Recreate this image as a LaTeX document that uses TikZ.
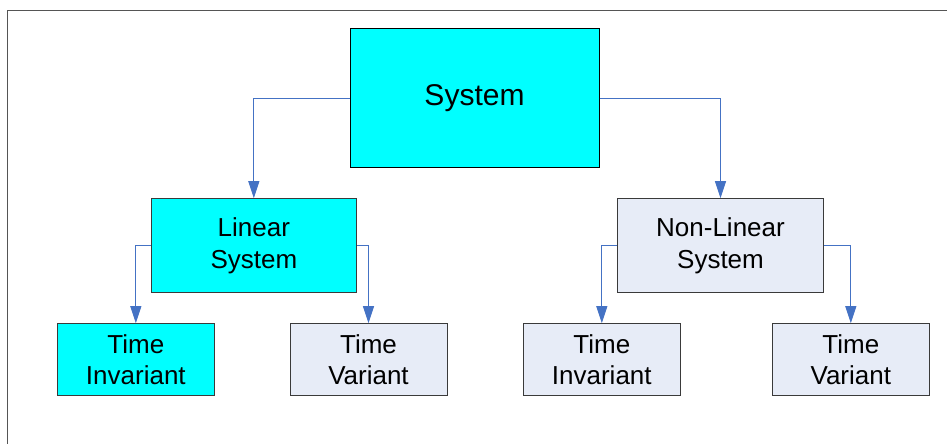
\documentclass[tikz,border=0pt]{standalone}
\usepackage{fontspec}
\setmainfont{Liberation Sans}
\usetikzlibrary{arrows.meta}
\definecolor{boxcyan}{HTML}{00FFFF}
\definecolor{boxpale}{HTML}{E7ECF7}
\definecolor{linkblue}{HTML}{4472C4}
\definecolor{edgegrey}{HTML}{3A3A3A}
\definecolor{framegrey}{HTML}{555555}
\tikzset{
  base/.style={draw=edgegrey, line width=1pt, inner sep=0pt, align=center,
    font=\fontsize{26}{31.5}\selectfont},
  cyanbox/.style={base, fill=boxcyan},
  palebox/.style={base, fill=boxpale},
  link/.style={draw=linkblue, line width=1pt, -{Triangle[length=17pt,width=11pt]}},
}
\begin{document}
\begin{tikzpicture}[x=1pt,y=-1pt]
  \useasboundingbox (0,0) rectangle (947,444);
  % open frame (left and top edges)
  \draw[framegrey, line width=1.6pt] (7.5,444) -- (7.5,10.5) -- (947,10.5);

  % top level
  \node[cyanbox, draw=black, minimum width=249pt, minimum height=138pt,
        font=\fontsize{30}{36}\selectfont] (sys) at (474.5,98) {System};

  % second level
  \node[cyanbox, minimum width=205.7pt, minimum height=94pt] (lin) at (253.85,245.7) {Linear\\System};
  \node[palebox, minimum width=205.6pt, minimum height=94pt] (nl) at (720.5,245.7) {Non-Linear\\System};

  % third level
  \node[cyanbox, minimum width=156.3pt, minimum height=72pt] (til) at (135.85,359.7) {Time\\Invariant};
  \node[palebox, minimum width=157pt, minimum height=72pt] (tvl) at (368.5,359.7) {Time\\Variant};
  \node[palebox, minimum width=157pt, minimum height=72pt] (tir) at (601.8,359.7) {Time\\Invariant};
  \node[palebox, minimum width=157pt, minimum height=72pt] (tvr) at (850.8,359.7) {Time\\Variant};

  % connectors
  \draw[link] (sys.west) -| (lin.north);
  \draw[link] (sys.east) -| (nl.north);
  \draw[link] (lin.west) -| (til.north);
  \draw[link] (lin.east) -| (tvl.north);
  \draw[link] (nl.west) -| (tir.north);
  \draw[link] (nl.east) -| (tvr.north);
\end{tikzpicture}
\end{document}
